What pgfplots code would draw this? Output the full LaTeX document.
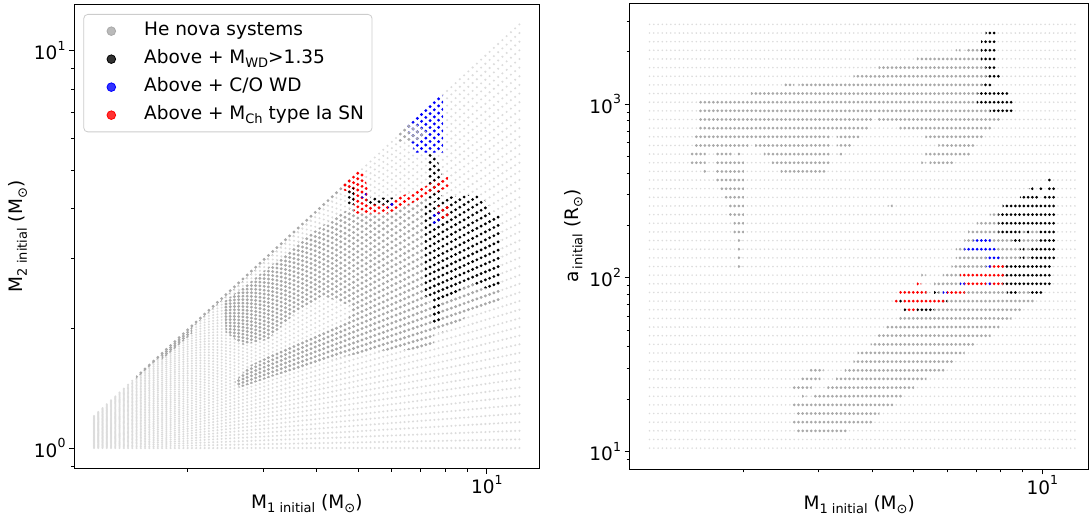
\documentclass[border=0pt]{standalone}
\usepackage{fontspec}
\setmainfont{DejaVu Sans}
\usepackage{pgfplots}
\usepackage{pgfplotstable}
\pgfplotsset{compat=1.18}

\definecolor{bgc}{HTML}{DCDCDC}
\definecolor{gryc}{HTML}{A9A9A9}

\newcommand\sub[1]{\raisebox{-0.22em}{\fontsize{13}{13}\selectfont #1}}
\newcommand\sups[1]{\raisebox{0.5em}{\fontsize{12.5}{12.5}\selectfont #1}}

% clip helpers (pixel coordinates of the reference -> axis units)
\newcommand\LP[2]{(axis cs:{1+(#1-487)/427.5},{(448.3-#2)/397.6})}
\newcommand\rr[3]{(axis cs:{#1/1229.9-0.16757},{#3*0.0498+0.999}) rectangle (axis cs:{#2/1229.9-0.15757},{#3*0.0498+1.039})}

\pgfplotsset{
  dotbase/.style={forget plot, mark=none, line cap=round},
  bgL/.style={dotbase, draw=bgc, line width=2.3pt},
  gryL/.style={dotbase, draw=gryc, line width=3.2pt},
  blkL/.style={dotbase, draw=black, line width=3.1pt},
  redL/.style={dotbase, draw=red, line width=3.2pt},
  bluL/.style={dotbase, draw=blue, line width=3.2pt},
  bgR/.style={dotbase, draw=bgc, line width=1.8pt, dash pattern=on 0pt off 4.2536pt},
  gryR/.style={dotbase, draw=gryc, line width=3.0pt, dash pattern=on 0pt off 4.2536pt},
  blkR/.style={dotbase, draw=black, line width=3.0pt, dash pattern=on 0pt off 4.2536pt},
  redR/.style={dotbase, draw=red, line width=3.0pt, dash pattern=on 0pt off 4.2536pt},
  bluR/.style={dotbase, draw=blue, line width=3.0pt, dash pattern=on 0pt off 4.2536pt},
  common/.style={
    axis on top, clip=true, unbounded coords=jump,
    axis line style={line width=1pt},
    tick align=outside, xtick pos=left, ytick pos=left,
    major tick length=5pt, minor tick length=3pt,
    tick style={black, line width=0.9pt},
    xtick={1}, xticklabels={10\sups{1}},
    minor xtick={0.30103,0.47712,0.60206,0.69897,0.77815,0.84510,0.90309,0.95424},
    tick label style={font=\fontsize{18.5}{18.5}\selectfont},
    xticklabel style={yshift=2pt},
    label style={font=\fontsize{18.5}{22}\selectfont},
    xlabel style={yshift=6pt},
    xlabel={M\sub{1 initial} (M\sub{⊙})},
  },
}

% grid rays of the left panel: log M2 = f_k log M1, columns 0.00995 dex apart
\newcommand\LRays[1]{%
\addplot[#1,dash pattern=on 0pt off 4.2536pt] coordinates {(0.0814,0) (1.0794,0)};
\addplot[#1,dash pattern=on 0pt off 4.2544pt] coordinates {(0.0814,0.001644) (1.0794,0.021804)};
\addplot[#1,dash pattern=on 0pt off 4.2566pt] coordinates {(0.0814,0.003289) (1.0794,0.043608)};
\addplot[#1,dash pattern=on 0pt off 4.2603pt] coordinates {(0.0814,0.004933) (1.0794,0.065412)};
\addplot[#1,dash pattern=on 0pt off 4.2656pt] coordinates {(0.0814,0.006577) (1.0794,0.087216)};
\addplot[#1,dash pattern=on 0pt off 4.2723pt] coordinates {(0.0814,0.008221) (1.0794,0.109020)};
\addplot[#1,dash pattern=on 0pt off 4.2805pt] coordinates {(0.0814,0.009866) (1.0794,0.130824)};
\addplot[#1,dash pattern=on 0pt off 4.2902pt] coordinates {(0.0814,0.011510) (1.0794,0.152628)};
\addplot[#1,dash pattern=on 0pt off 4.3014pt] coordinates {(0.0814,0.013154) (1.0794,0.174432)};
\addplot[#1,dash pattern=on 0pt off 4.3140pt] coordinates {(0.0814,0.014799) (1.0794,0.196236)};
\addplot[#1,dash pattern=on 0pt off 4.3280pt] coordinates {(0.0814,0.016443) (1.0794,0.218040)};
\addplot[#1,dash pattern=on 0pt off 4.3435pt] coordinates {(0.0814,0.018087) (1.0794,0.239844)};
\addplot[#1,dash pattern=on 0pt off 4.3603pt] coordinates {(0.0814,0.019732) (1.0794,0.261648)};
\addplot[#1,dash pattern=on 0pt off 4.3786pt] coordinates {(0.0814,0.021376) (1.0794,0.283452)};
\addplot[#1,dash pattern=on 0pt off 4.3983pt] coordinates {(0.0814,0.023020) (1.0794,0.305256)};
\addplot[#1,dash pattern=on 0pt off 4.4193pt] coordinates {(0.0814,0.024665) (1.0794,0.327060)};
\addplot[#1,dash pattern=on 0pt off 4.4416pt] coordinates {(0.0814,0.026309) (1.0794,0.348864)};
\addplot[#1,dash pattern=on 0pt off 4.4653pt] coordinates {(0.0814,0.027953) (1.0794,0.370668)};
\addplot[#1,dash pattern=on 0pt off 4.4902pt] coordinates {(0.0814,0.029597) (1.0794,0.392472)};
\addplot[#1,dash pattern=on 0pt off 4.5165pt] coordinates {(0.0814,0.031242) (1.0794,0.414276)};
\addplot[#1,dash pattern=on 0pt off 4.5439pt] coordinates {(0.0814,0.032886) (1.0794,0.436080)};
\addplot[#1,dash pattern=on 0pt off 4.5727pt] coordinates {(0.0814,0.034530) (1.0794,0.457884)};
\addplot[#1,dash pattern=on 0pt off 4.6026pt] coordinates {(0.0814,0.036175) (1.0794,0.479688)};
\addplot[#1,dash pattern=on 0pt off 4.6337pt] coordinates {(0.0814,0.037819) (1.0794,0.501492)};
\addplot[#1,dash pattern=on 0pt off 4.6660pt] coordinates {(0.0814,0.039463) (1.0794,0.523296)};
\addplot[#1,dash pattern=on 0pt off 4.6994pt] coordinates {(0.0814,0.041108) (1.0794,0.545100)};
\addplot[#1,dash pattern=on 0pt off 4.7339pt] coordinates {(0.0814,0.042752) (1.0794,0.566904)};
\addplot[#1,dash pattern=on 0pt off 4.7695pt] coordinates {(0.0814,0.044396) (1.0794,0.588708)};
\addplot[#1,dash pattern=on 0pt off 4.8062pt] coordinates {(0.0814,0.046040) (1.0794,0.610512)};
\addplot[#1,dash pattern=on 0pt off 4.8439pt] coordinates {(0.0814,0.047685) (1.0794,0.632316)};
\addplot[#1,dash pattern=on 0pt off 4.8826pt] coordinates {(0.0814,0.049329) (1.0794,0.654120)};
\addplot[#1,dash pattern=on 0pt off 4.9224pt] coordinates {(0.0814,0.050973) (1.0794,0.675924)};
\addplot[#1,dash pattern=on 0pt off 4.9631pt] coordinates {(0.0814,0.052618) (1.0794,0.697728)};
\addplot[#1,dash pattern=on 0pt off 5.0047pt] coordinates {(0.0814,0.054262) (1.0794,0.719532)};
\addplot[#1,dash pattern=on 0pt off 5.0473pt] coordinates {(0.0814,0.055906) (1.0794,0.741336)};
\addplot[#1,dash pattern=on 0pt off 5.0908pt] coordinates {(0.0814,0.057551) (1.0794,0.763140)};
\addplot[#1,dash pattern=on 0pt off 5.1351pt] coordinates {(0.0814,0.059195) (1.0794,0.784944)};
\addplot[#1,dash pattern=on 0pt off 5.1803pt] coordinates {(0.0814,0.060839) (1.0794,0.806748)};
\addplot[#1,dash pattern=on 0pt off 5.2263pt] coordinates {(0.0814,0.062483) (1.0794,0.828552)};
\addplot[#1,dash pattern=on 0pt off 5.2731pt] coordinates {(0.0814,0.064128) (1.0794,0.850356)};
\addplot[#1,dash pattern=on 0pt off 5.3208pt] coordinates {(0.0814,0.065772) (1.0794,0.872160)};
\addplot[#1,dash pattern=on 0pt off 5.3692pt] coordinates {(0.0814,0.067416) (1.0794,0.893964)};
\addplot[#1,dash pattern=on 0pt off 5.4183pt] coordinates {(0.0814,0.069061) (1.0794,0.915768)};
\addplot[#1,dash pattern=on 0pt off 5.4682pt] coordinates {(0.0814,0.070705) (1.0794,0.937572)};
\addplot[#1,dash pattern=on 0pt off 5.5187pt] coordinates {(0.0814,0.072349) (1.0794,0.959376)};
\addplot[#1,dash pattern=on 0pt off 5.5700pt] coordinates {(0.0814,0.073994) (1.0794,0.981180)};
\addplot[#1,dash pattern=on 0pt off 5.6219pt] coordinates {(0.0814,0.075638) (1.0794,1.002984)};
\addplot[#1,dash pattern=on 0pt off 5.6745pt] coordinates {(0.0814,0.077282) (1.0794,1.024788)};
\addplot[#1,dash pattern=on 0pt off 5.7277pt] coordinates {(0.0814,0.078926) (1.0794,1.046592)};
\addplot[#1,dash pattern=on 0pt off 5.7815pt] coordinates {(0.0814,0.080571) (1.0794,1.068396)};
}

% grid rows of the right panel (log a), columns 0.00995 dex apart
\pgfplotstableread[row sep=\\]{
lx la\\
0.0814 1.019\\ 1.0794 1.019\\ nan nan\\
0.0814 1.0688\\ 1.0794 1.0688\\ nan nan\\
0.0814 1.1186\\ 1.0794 1.1186\\ nan nan\\
0.0814 1.1684\\ 1.0794 1.1684\\ nan nan\\
0.0814 1.2182\\ 1.0794 1.2182\\ nan nan\\
0.0814 1.268\\ 1.0794 1.268\\ nan nan\\
0.0814 1.3178\\ 1.0794 1.3178\\ nan nan\\
0.0814 1.3676\\ 1.0794 1.3676\\ nan nan\\
0.0814 1.4174\\ 1.0794 1.4174\\ nan nan\\
0.0814 1.4672\\ 1.0794 1.4672\\ nan nan\\
0.0814 1.517\\ 1.0794 1.517\\ nan nan\\
0.0814 1.5668\\ 1.0794 1.5668\\ nan nan\\
0.0814 1.6166\\ 1.0794 1.6166\\ nan nan\\
0.0814 1.6664\\ 1.0794 1.6664\\ nan nan\\
0.0814 1.7162\\ 1.0794 1.7162\\ nan nan\\
0.0814 1.766\\ 1.0794 1.766\\ nan nan\\
0.0814 1.8158\\ 1.0794 1.8158\\ nan nan\\
0.0814 1.8656\\ 1.0794 1.8656\\ nan nan\\
0.0814 1.9154\\ 1.0794 1.9154\\ nan nan\\
0.0814 1.9652\\ 1.0794 1.9652\\ nan nan\\
0.0814 2.015\\ 1.0794 2.015\\ nan nan\\
0.0814 2.0648\\ 1.0794 2.0648\\ nan nan\\
0.0814 2.1146\\ 1.0794 2.1146\\ nan nan\\
0.0814 2.1644\\ 1.0794 2.1644\\ nan nan\\
0.0814 2.2142\\ 1.0794 2.2142\\ nan nan\\
0.0814 2.264\\ 1.0794 2.264\\ nan nan\\
0.0814 2.3138\\ 1.0794 2.3138\\ nan nan\\
0.0814 2.3636\\ 1.0794 2.3636\\ nan nan\\
0.0814 2.4134\\ 1.0794 2.4134\\ nan nan\\
0.0814 2.4632\\ 1.0794 2.4632\\ nan nan\\
0.0814 2.513\\ 1.0794 2.513\\ nan nan\\
0.0814 2.5628\\ 1.0794 2.5628\\ nan nan\\
0.0814 2.6126\\ 1.0794 2.6126\\ nan nan\\
0.0814 2.6624\\ 1.0794 2.6624\\ nan nan\\
0.0814 2.7122\\ 1.0794 2.7122\\ nan nan\\
0.0814 2.762\\ 1.0794 2.762\\ nan nan\\
0.0814 2.8118\\ 1.0794 2.8118\\ nan nan\\
0.0814 2.8616\\ 1.0794 2.8616\\ nan nan\\
0.0814 2.9114\\ 1.0794 2.9114\\ nan nan\\
0.0814 2.9612\\ 1.0794 2.9612\\ nan nan\\
0.0814 3.011\\ 1.0794 3.011\\ nan nan\\
0.0814 3.0608\\ 1.0794 3.0608\\ nan nan\\
0.0814 3.1106\\ 1.0794 3.1106\\ nan nan\\
0.0814 3.1604\\ 1.0794 3.1604\\ nan nan\\
0.0814 3.2102\\ 1.0794 3.2102\\ nan nan\\
0.0814 3.26\\ 1.0794 3.26\\ nan nan\\
0.0814 3.3098\\ 1.0794 3.3098\\ nan nan\\
0.0814 3.3596\\ 1.0794 3.3596\\ nan nan\\
0.0814 3.4094\\ 1.0794 3.4094\\ nan nan\\
0.0814 3.4592\\ 1.0794 3.4592\\
}\Rrows

\begin{document}
\begin{tikzpicture}
\useasboundingbox (0,0) rectangle (1090pt,520pt);

% ---------------- left panel ----------------
\begin{axis}[common,
  at={(74pt,51.3pt)}, anchor=south west,
  x=427.5pt, y=397.6pt,
  xmin=0.0345, xmax=1.1239, ymin=-0.052, ymax=1.1165,
  ytick={0,1}, yticklabels={10\sups{0},10\sups{1}},
  minor ytick={-0.04576,0.30103,0.47712,0.60206,0.69897,0.77815,0.84510,0.90309,0.95424},
  ylabel={M\sub{2 initial} (M\sub{⊙})},
  legend cell align=left,
  legend style={at={(0.0202,0.9787)}, anchor=north west,
    draw=black!20, line width=0.8pt, rounded corners=4pt,
    fill=white, fill opacity=0.8, text opacity=1,
    font=\fontsize{18.5}{22}\selectfont,
    inner xsep=6pt, inner ysep=6pt, row sep=6.5pt,
    nodes={inner sep=2pt, text height=13.5pt, text depth=4pt},
    /tikz/every odd column/.append style={column sep=4.3pt}},
]
\LRays{bgL}
\begin{scope}
\clip (axis cs:0.18,0.185) -- (axis cs:0.68,0.69) -- (axis cs:0.68,0.664) -- (axis cs:0.31,0.302)
  -- (axis cs:0.31,0.287) -- (axis cs:0.24,0.222) -- (axis cs:0.24,0.2337) -- (axis cs:0.18,0.175) -- cycle
  \LP{224}{302} -- \LP{247}{285} -- \LP{267}{269} -- \LP{287}{254} -- \LP{303}{239} -- \LP{320}{228}
  -- \LP{337}{216} -- \LP{352}{208} -- \LP{358}{214} -- \LP{385}{215} -- \LP{400}{207} -- \LP{427}{197}
  -- \LP{427}{300} -- \LP{434}{306} -- \LP{434}{346} -- \LP{413}{350} -- \LP{382}{351} -- \LP{347}{356}
  -- \LP{313}{365} -- \LP{278}{375} -- \LP{240}{388} -- \LP{235}{382} -- \LP{250}{366} -- \LP{278}{352}
  -- \LP{313}{337} -- \LP{348}{320} -- \LP{353}{307} -- \LP{323}{296} -- \LP{295}{314} -- \LP{268}{340}
  -- \LP{243}{345} -- \LP{226}{333} -- cycle
  \LP{434}{283} -- \LP{501}{283} -- \LP{501}{300} -- \LP{470}{315} -- \LP{445}{332} -- \LP{434}{334} -- cycle;
\LRays{gryL}
\end{scope}
\begin{scope}
\clip \LP{428}{154} -- \LP{435}{154} -- \LP{442}{172} -- \LP{442}{200} -- \LP{428}{200} -- cycle
  \LP{425}{205} -- \LP{448}{197} -- \LP{476}{195} -- \LP{488}{203} -- \LP{490}{214} -- \LP{501}{216}
  -- \LP{501}{287} -- \LP{488}{289} -- \LP{470}{283} -- \LP{455}{294} -- \LP{442}{300} -- \LP{441}{323}
  -- \LP{433}{323} -- \LP{433}{300} -- \LP{425}{296} -- cycle;
\LRays{blkL}
\end{scope}
\begin{scope}
\clip \LP{340}{187} -- \LP{353}{172} -- \LP{364}{172} -- \LP{368}{190} -- \LP{367}{204} -- \LP{386}{205}
  -- \LP{395}{199} -- \LP{425}{187} -- \LP{448}{174} -- \LP{450}{187} -- \LP{426}{197} -- \LP{400}{209}
  -- \LP{386}{214} -- \LP{354}{214} -- \LP{354}{193} -- \LP{345}{191} -- cycle
  \LP{436}{207} -- \LP{449}{203} -- \LP{449}{217} -- \LP{436}{221} -- cycle;
\LRays{redL}
\end{scope}
\begin{scope}
\clip \LP{348}{188} -- \LP{354}{188} -- \LP{354}{205} -- \LP{348}{205} -- cycle
  \LP{367}{198} -- \LP{393}{198} -- \LP{393}{205} -- \LP{367}{205} -- cycle;
\LRays{blkL}
\end{scope}
\begin{scope}
\clip \LP{406}{125} -- \LP{437}{96} -- \LP{443}{96} -- \LP{443}{153} -- \LP{415}{153} -- cycle
  \LP{361.5}{193.5} -- \LP{366.5}{193.5} -- \LP{366.5}{198.5} -- \LP{361.5}{198.5} -- cycle
  \LP{388}{203.5} -- \LP{394}{203.5} -- \LP{394}{208.5} -- \LP{388}{208.5} -- cycle
  \LP{431}{213} -- \LP{441}{213} -- \LP{441}{224} -- \LP{431}{224} -- cycle;
\LRays{bluL}
\end{scope}
\begin{scope}
\clip \LP{399}{128} -- \LP{415}{123} -- \LP{428}{133} -- \LP{418}{142} -- \LP{399}{142} -- cycle;
\LRays{gryL}
\end{scope}

\addlegendimage{legend image code/.code={\draw[draw=none] (0pt,0pt) -- (48pt,0pt); \fill[gryc] (21.5pt,0pt) circle (4.3pt);}}
\addlegendentry{He nova systems}
\addlegendimage{legend image code/.code={\draw[draw=none] (0pt,0pt) -- (48pt,0pt); \fill[black] (21.5pt,0pt) circle (4.3pt);}}
\addlegendentry{Above + M\sub{WD}>1.35}
\addlegendimage{legend image code/.code={\draw[draw=none] (0pt,0pt) -- (48pt,0pt); \fill[blue] (21.5pt,0pt) circle (4.3pt);}}
\addlegendentry{Above + C/O WD}
\addlegendimage{legend image code/.code={\draw[draw=none] (0pt,0pt) -- (48pt,0pt); \fill[red] (21.5pt,0pt) circle (4.3pt);}}
\addlegendentry{Above + M\sub{Ch} type Ia SN}
\end{axis}

% ---------------- right panel ----------------
\begin{axis}[common,
  at={(629.5pt,50.7pt)}, anchor=south west,
  x=427.5pt, y=173.65pt,
  xmin=0.0345, xmax=1.109, ymin=0.897, ymax=3.581,
  ytick={1,2,3}, yticklabels={10\sups{1},10\sups{2},10\sups{3}},
  minor ytick={0.95424,1.30103,1.47712,1.60206,1.69897,1.77815,1.84510,1.90309,1.95424,
    2.30103,2.47712,2.60206,2.69897,2.77815,2.84510,2.90309,2.95424,3.30103,3.47712},
  ylabel={a\sub{\,initial} (R\sub{⊙})},
]
\addplot[bgR] table[x=lx,y=la] {\Rrows};
\begin{scope}
\clip \rr{1188}{1188}{46} \rr{1215}{1250}{46} \rr{1075}{1250}{45} \rr{965}{1262}{44} \rr{893}{1262}{43}
 \rr{695}{710}{42} \rr{735}{1250}{42} \rr{598}{1240}{41} \rr{447}{1235}{40} \rr{447}{1275}{39}
 \rr{447}{935}{38} \rr{960}{1302}{38} \rr{447}{925}{37} \rr{1025}{1278}{37}
 \rr{435}{812}{36} \rr{845}{900}{36} \rr{1100}{1253}{36}
 \rr{435}{578}{35} \rr{610}{812}{35} \rr{845}{875}{35} \rr{1137}{1230}{35}
 \rr{423}{455}{34} \rr{498}{530}{34} \rr{560}{560}{34} \rr{635}{812}{34} \rr{847}{847}{34} \rr{1100}{1218}{34}
 \rr{423}{455}{33} \rr{498}{565}{33} \rr{658}{812}{33} \rr{1088}{1088}{33} \rr{1112}{1170}{33}
 \rr{462}{462}{32} \rr{498}{565}{32} \rr{683}{800}{32}
 \rr{498}{565}{31} \rr{510}{565}{30} \rr{522}{565}{29} \rr{535}{565}{28} \rr{993}{993}{28}
 \rr{535}{565}{27} \rr{1285}{1298}{27} \rr{548}{565}{26} \rr{1248}{1298}{26}
 \rr{548}{565}{25} \rr{1223}{1298}{25} \rr{1372}{1372}{25} \rr{1398}{1412}{25}
 \rr{560}{560}{24} \rr{1212}{1230}{24} \rr{1285}{1335}{24} \rr{1372}{1412}{24}
 \rr{560}{560}{23} \rr{1188}{1200}{23} \rr{1300}{1360}{23} \rr{1385}{1385}{23}
 \rr{560}{560}{22} \rr{1188}{1265}{22} \rr{1310}{1360}{22} \rr{1385}{1385}{22}
 \rr{560}{560}{21} \rr{1175}{1265}{21} \rr{1088}{1088}{20} \rr{1150}{1188}{20} \rr{1125}{1188}{19}
 \rr{1100}{1100}{18} \rr{1137}{1137}{18} \rr{1210}{1325}{18} \rr{1360}{1385}{18}
 \rr{1162}{1400}{17} \rr{1125}{1362}{16} \rr{1025}{1335}{15} \rr{987}{1300}{14} \rr{962}{1275}{13}
 \rr{943}{1228}{12} \rr{905}{1200}{11} \rr{893}{1168}{10}
 \rr{767}{795}{9} \rr{868}{1142}{9} \rr{742}{785}{8} \rr{843}{1090}{8}
 \rr{718}{760}{7} \rr{818}{1055}{7} \rr{745}{745}{6} \rr{780}{1020}{6}
 \rr{718}{995}{5} \rr{730}{955}{4} \rr{718}{935}{3} \rr{730}{862}{2};
\addplot[gryR] table[x=lx,y=la] {\Rrows};
\end{scope}
\begin{scope}
\clip \rr{1273}{1290}{48} \rr{1260}{1290}{47} \rr{1260}{1290}{46} \rr{1260}{1290}{45} \rr{1273}{1290}{44}
 \rr{1275}{1302}{43} \rr{1262}{1278}{42} \rr{1250}{1328}{41} \rr{1248}{1340}{40} \rr{1285}{1340}{39}
 \rr{1450}{1450}{31} \rr{1398}{1398}{30} \rr{1425}{1425}{30} \rr{1450}{1462}{30}
 \rr{1372}{1412}{29} \rr{1437}{1462}{29} \rr{1322}{1462}{28} \rr{1310}{1462}{27} \rr{1310}{1462}{26}
 \rr{1310}{1360}{25} \rr{1385}{1385}{25} \rr{1425}{1462}{25}
 \rr{1348}{1360}{24} \rr{1425}{1462}{24}
 \rr{1372}{1372}{23} \rr{1398}{1462}{23} \rr{1372}{1372}{22} \rr{1398}{1462}{22}
 \rr{1322}{1452}{21} \rr{1322}{1452}{20} \rr{1322}{1452}{19}
 \rr{1125}{1125}{18} \rr{1335}{1350}{18} \rr{1398}{1425}{18}
 \rr{1025}{1025}{17} \rr{1150}{1150}{17} \rr{1038}{1038}{16} \rr{1075}{1112}{16};
\addplot[blkR] table[x=lx,y=la] {\Rrows};
\end{scope}
\begin{scope}
\clip \rr{1285}{1315}{21} \rr{1200}{1315}{20} \rr{1075}{1075}{19} \rr{1212}{1262}{19} \rr{1285}{1310}{19}
 \rr{1025}{1090}{18} \rr{1162}{1200}{18} \rr{1012}{1012}{17} \rr{1038}{1142}{17} \rr{1050}{1062}{16};
\addplot[redR] table[x=lx,y=la] {\Rrows};
\end{scope}
\begin{scope}
\clip \rr{1238}{1275}{24} \rr{1212}{1290}{23} \rr{1275}{1302}{22} \rr{1275}{1275}{21}
 \rr{1200}{1200}{19} \rr{1275}{1275}{19} \rr{1150}{1150}{18};
\addplot[bluR] table[x=lx,y=la] {\Rrows};
\end{scope}
\end{axis}
\end{tikzpicture}
\end{document}
